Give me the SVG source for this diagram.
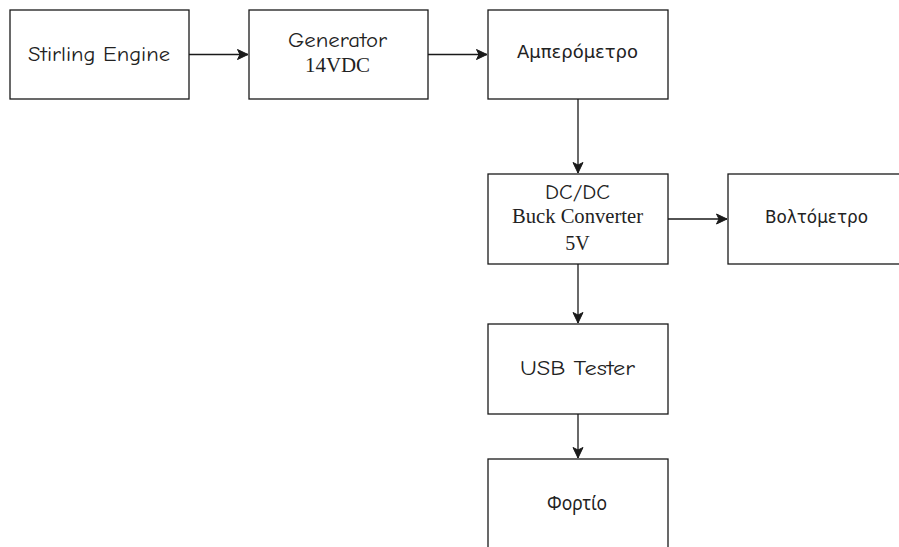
<svg xmlns="http://www.w3.org/2000/svg" width="899" height="547" viewBox="0 0 899 547">
<style>
.box{fill:#fff;stroke:#1a1a1a;stroke-width:1.3}
.edge{fill:none;stroke:#1a1a1a;stroke-width:1.3}
.hand{font-family:"Comic Sans MS","Comic Neue","Noto Sans",sans-serif;font-size:20px;fill:#222;text-anchor:middle}
.ser{font-family:"Liberation Serif","Times New Roman",serif;font-size:20px;fill:#222;text-anchor:middle}
.sans{font-family:"DejaVu Sans","Noto Sans",sans-serif;font-size:18px;fill:#222;text-anchor:middle}
</style>
<defs>
<marker id="arr" markerUnits="userSpaceOnUse" markerWidth="14" markerHeight="14" viewBox="0 0 14 14" refX="12" refY="7" orient="auto">
<path d="M1.5,2 L12,7 L1.5,12 L4,7 Z" fill="#1a1a1a" stroke="#1a1a1a" stroke-width="1"/>
</marker>
</defs>
<rect width="899" height="547" fill="#fff"/>
<g id="edges">
<path class="edge" d="M189,54.5 L248,54.5" marker-end="url(#arr)"/>
<path class="edge" d="M428,54.5 L487,54.5" marker-end="url(#arr)"/>
<path class="edge" d="M578,99 L578,173" marker-end="url(#arr)"/>
<path class="edge" d="M668,219 L727,219" marker-end="url(#arr)"/>
<path class="edge" d="M578,264 L578,323" marker-end="url(#arr)"/>
<path class="edge" d="M578,414 L578,458" marker-end="url(#arr)"/>
</g>
<g id="stirling">
<rect class="box" x="10" y="10" width="179" height="89"/>
<text class="hand" x="99" y="61" textLength="142" lengthAdjust="spacingAndGlyphs">Stirling Engine</text>
</g>
<g id="generator">
<rect class="box" x="249" y="10" width="179" height="89"/>
<text class="hand" x="337.5" y="47" textLength="99" lengthAdjust="spacingAndGlyphs">Generator</text>
<text class="ser" x="337.5" y="72" textLength="65" lengthAdjust="spacingAndGlyphs">14VDC</text>
</g>
<g id="ammeter">
<rect class="box" x="488" y="10" width="180" height="89"/>
<text class="sans" x="577.5" y="58" textLength="121" lengthAdjust="spacingAndGlyphs">Αμπερόμετρο</text>
</g>
<g id="buck">
<rect class="box" x="488" y="174" width="180" height="90"/>
<text class="hand" x="577.5" y="199" textLength="65" lengthAdjust="spacingAndGlyphs">DC/DC</text>
<text class="ser" x="577.5" y="223" textLength="131" lengthAdjust="spacingAndGlyphs">Buck Converter</text>
<text class="ser" x="577.5" y="250">5V</text>
</g>
<g id="voltmeter">
<rect class="box" x="728" y="174" width="180" height="90"/>
<text class="sans" x="816.5" y="223" textLength="103" lengthAdjust="spacingAndGlyphs">Βολτόμετρο</text>
</g>
<g id="usb">
<rect class="box" x="488" y="324" width="180" height="90"/>
<text class="hand" x="577.5" y="375" textLength="115" lengthAdjust="spacingAndGlyphs">USB Tester</text>
</g>
<g id="load">
<rect class="box" x="488" y="459" width="180" height="100"/>
<text class="hand" x="577" y="510" textLength="60" lengthAdjust="spacingAndGlyphs">Φορτίο</text>
</g>
</svg>
